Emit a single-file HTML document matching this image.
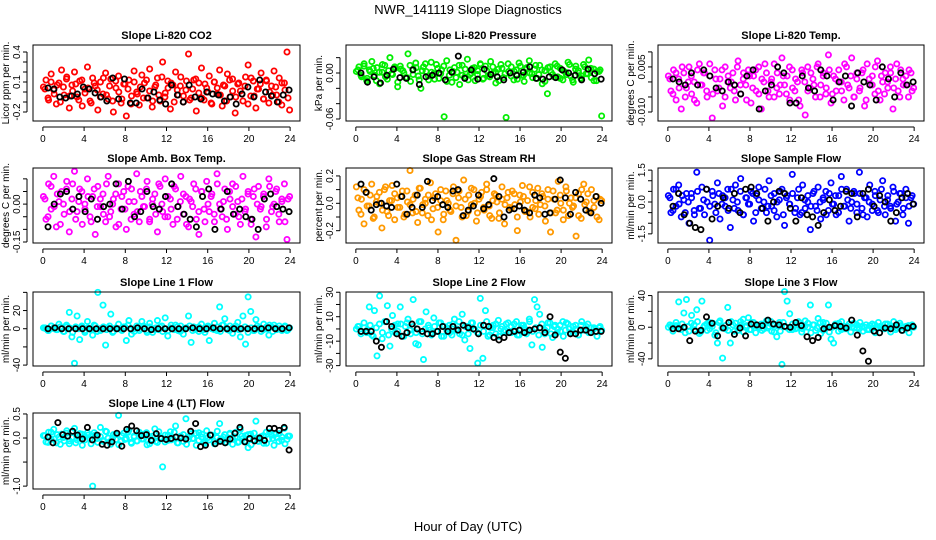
<!DOCTYPE html>
<html><head><meta charset="utf-8">
<style>
html,body{margin:0;padding:0;background:#fff;}
svg{display:block;font-family:"Liberation Sans",sans-serif;}
</style></head>
<body>
<svg id="chart" width="936" height="540" viewBox="0 0 936 540" xmlns="http://www.w3.org/2000/svg">
<rect width="936" height="540" fill="#fff"/>
<text x="468" y="14" text-anchor="middle" font-size="13">NWR_141119  Slope Diagnostics</text>
<text x="468" y="531" text-anchor="middle" font-size="13">Hour of Day (UTC)</text>
</svg>
<script>
const hourTicks = [0,4,8,12,16,20,24];
const co2Color = [5,12,-8,18,2,-12,9,22,-3,15,-16,7,20,-5,11,-14,3,25,-9,14,6,-18,10,-2,19,-7,13,-20,4,16,-11,8,-24,12,-4,21,0,-13,17,9,-6,23,-15,5,14,-9,30,-1,11,-17,7,20,-3,15,-10,2,38,-6,12,-19,9,24,-8,4,16,-12,10,-2,22,-14,6,18,-5,13,-21,8,1,-9,15,27,-4,11,-16,3,19,-7,12,-11,6,21,-3,14,-13,9,40,-18];
const co2Core = [3,-6,10,-2,7,-10,5,13,-4,1,8,-8,12,-1,4,-11,9,2,-5,14,-3,6,-9,11,0,-7,8,3,-12,10,-2,5,-6,12,1,-9,7,-3,15,-5,4,9,-10,2,6,-4,11,-8,3,13,-1,-6,8,0,-11,10,4,-3,7,-9,12,1,-5,9,-2,6,-12,14,-4,3,8,-7,11,0,-3,5,-10,9,2,-6];
const co2Black = [4,3,-5,-6,-4,-2,5,3,-1,-5,-9,14,-7,13,-11,-11,3,-6,0,-8,-12,7,-3,-10,7,-5,-7,0,-2,-3,-9,-5,-12,-2,5,-5,12,0,-4,-10,-3,2];
const presColor = [2,8,-5,12,-10,4,15,-3,7,-14,1,10,-8,20,-2,6,-18,9,3,-6,25,-11,5,13,-4,-20,8,2,-9,14,-1,11,-7,4,-57,16,-3,-12,7,1,-15,10,-5,18,-2,6,-10,3,12,-8,9,-4,15,0,-13,5,11,-6,-58,2,8,-9,4,13,-3,-11,7,16,-1,5,-7,10,-14,3,-27,8,-2,12,-5,6,-9,1,14,-4,-12,9,3,-7,11,-1,17,-6,5,-10,2,-56];
const presCore = [4,-3,9,-7,2,6,-10,1,11,-5,3,-1,8,-12,5,0,-6,10,-2,7,-9,3,12,-4,1,-8,6,-1,9,-11,4,2,-6,10,-3,5,-9,0,7,-2,11,-7,3,-5,8,1,-10,6,-1,12,-4,2,-8,9,-3,5,0,-6,10,-2,4,-11,7,1,-5,9,-7,3,-2,11,-9,5,0,-4,8,-1,6,-10,2,4];
const presBlack = [0,-12,-5,-13,-3,5,-6,-7,4,-15,-5,-3,0,-9,1,22,-7,4,-8,5,-2,-5,-9,0,-3,1,8,-7,-8,-5,-6,4,0,-3,-9,5,-1,-8];
const tempColor = [2,-3,4,-6,1,-9,3,-2,5,-4,0,-7,6,-1,3,-5,2,-12,4,-3,1,-8,5,0,-2,3,-6,7,-4,1,-1,4,-7,2,-3,5,-9,0,3,-5,1,6,-2,-4,8,-1,2,-6,4,-3,0,-8,3,-11,5,-2,1,-5,6,-1,3,-4,9,-7,2,-3,4,0,-6,5,-2,8,-5,1,-3,3,-8,6,-1,2,-4,7,-6,0,3,-2,5,-9,1,-3,4,-1,2,-5,3,-2];
const tempCore = [1,-4,3,-2,5,-5,0,2,-6,4,-1,3,-3,6,-4,1,-2,4,-5,2,0,-3,5,-1,3,-6,2,-2,4,-4,1,6,-3,0,-5,3,-1,2,-4,5,-2,1,-6,4,0,-3,3,-1,5,-5,2,-2,4,-4,1,0,-3,6,-1,2,-5,3,-2,4,-6,1,-1,5,-3,2,-4,0,3,-2,6,-5,1,-1,4,-3];
const tempBlack = [1,0,-1,3,-1,4,2,-2,-3,0,-1,-4,2,4,-9,-3,-1,5,3,-7,-7,2,-2,-3,4,2,-6,0,2,-8,3,0,-1,-6,5,1,-5,3,-1,0];
const ambColor = [3,-6,8,-2,11,-9,1,5,-4,9,-11,2,13,-3,6,-8,0,10,-5,3,-12,7,-1,4,-7,11,-3,2,-9,8,-2,5,-10,1,6,-4,12,-7,3,-1,9,-6,0,4,-11,7,-3,10,-5,2,-8,6,-1,11,-4,3,-9,1,8,-6,-12,5,-2,9,-3,4,-7,12,0,-5,6,-10,2,8,-4,1,-8,11,-2,5,-6,3,-13,7,-1,4,-9,10,-3,0,6,-7,2,8,-14,3];
const ambCore = [2,-5,7,-1,4,-8,0,6,-3,8,-6,1,5,-2,3,-7,6,-1,2,-4,8,-5,0,4,-8,3,-2,7,-6,1,-3,5,-1,6,-7,2,-4,8,0,-5,3,-2,7,-6,1,4,-8,2,-1,6,-3,5,-7,0,3,-4,8,-2,1,-6,5,-1,7,-5,2,-3,4,-8,6,0,-2,3,-6,7,-1,5,-4,1,-7,2];
const ambBlack = [-9,0,4,5,-2,3,-3,2,-6,-1,0,8,-2,9,-5,-3,5,-1,-2,3,8,-1,-4,-6,-9,3,6,-10,-2,5,-4,-2,-5,-6,-10,2,4,-1,-2,-3];
const rhColor = [12,-5,3,-15,8,-2,14,-10,5,0,-18,10,-6,2,13,-12,4,-3,9,-8,1,24,-7,6,-14,11,-1,3,-9,15,-4,7,-21,2,-12,9,0,-6,12,-27,4,-3,17,-9,6,-1,10,-13,3,8,-5,14,-2,-11,7,1,-7,12,-15,4,-3,9,-1,-20,6,13,-6,2,-10,8,-4,11,-1,5,-13,3,-21,9,-7,16,0,-5,12,-9,4,-2,-24,7,-11,14,1,-6,10,-3,5,-12,2];
const rhCore = [4,-8,10,-2,6,-11,1,8,-5,12,-9,2,7,-3,5,-10,9,-1,3,-6,11,-7,0,6,-12,4,-3,10,-8,2,-5,7,-2,9,-10,3,-6,11,0,-7,5,-3,10,-9,2,6,-11,3,-1,8,-4,7,-10,1,5,-6,12,-3,2,-8,7,-2,10,-7,3,-5,6,-12,9,0,-3,4,-9,10,-1,7,-6,2,-10,3];
const rhBlack = [14,8,-5,-1,0,-2,-3,14,5,-8,-3,6,-3,16,2,5,-1,-3,9,10,-9,-5,-2,6,-4,-1,18,5,-10,-5,-4,-2,-5,-7,6,4,-8,-7,3,17,4,-8,8,3,-5,-7,5,0];
const sampColor = [3,-5,6,-2,8,-7,1,4,-10,2,-4,14,-3,7,-6,0,-18,5,-1,9,-8,3,-2,6,-12,1,8,-4,11,-6,2,-1,5,-9,3,7,-3,0,-5,10,-2,4,-7,1,6,-11,3,-1,13,-5,2,-6,8,-3,0,-13,4,-2,7,-8,1,5,-4,9,-1,-6,3,12,-2,6,-9,0,4,-5,14,-3,2,-7,8,-1,5,-4,1,10,-6,3,-2,7,-9,0,4,-3,6,-10,2,-1];
const sampCore = [2,-4,6,-1,3,-5,0,4,-6,5,-3,1,6,-2,3,-5,4,-1,2,-4,6,-3,0,5,-6,2,-1,4,-5,1,-3,6,-2,3,-4,0,5,-6,2,-1,4,-3,6,-5,1,3,-2,5,-4,0,2,-6,4,-1,3,-5,6,-2,1,-3,5,-1,4,-6,2,0,-4,3,-5,6,-2,1,-3,5,-1,4,-6,2,-2,3];
const sampBlack = [-2,4,-6,-10,-12,-13,6,-8,-2,2,-3,4,-5,6,7,4,-3,-9,0,5,4,-3,-9,2,-6,-7,-11,-5,1,-4,-2,5,4,-7,4,6,-2,3,0,-9,-5,2,4,-1];
const l1Color = [1,0,-2,3,1,-1,5,0,-3,2,18,-9,-38,14,-12,2,-4,8,0,-7,3,40,-2,26,-18,1,16,-3,0,5,-1,2,-13,9,-6,0,3,-2,8,1,-4,6,0,-1,9,2,-3,12,-8,1,0,4,-2,3,-6,1,14,-15,2,0,-3,5,-1,2,-13,0,6,-2,24,4,11,-1,3,-5,0,7,-9,14,-17,35,19,-2,10,1,-3,5,0,-7,2,4,-1,3,0,2,-2,1];
const l1Core = [1,-2,3,0,-1,2,-3,4,1,-4,2,0,3,-2,1,-1,4,-3,0,2,-1,3,-4,1,0,-2,2,4,-1,-3,1,0,3,-2,2,-4,1,-1,3,0,-2,4,-1,2,-3,0,1,3,-2,-1,2,0,-4,3,1,-1,2,-3,4,0,-2,1,3,-1,0,2,-4,1,-2,3,0,-1,2,4,-3,1,0,-2,3,-1];
const l1Black = [0,1,0,0,0,0,0,0,0,0,0,0,0,1,0,-1,0,0,0,0,0,1,0,0,1,0,0,0,0,0,0,0,1,0,0,1];
const l2Color = [0,2,-2,1,-3,18,-5,15,-22,27,-8,6,19,-14,11,-3,4,18,-6,2,8,-4,24,-12,-13,6,-25,14,1,-3,9,-2,5,-6,2,-1,3,-5,8,0,-4,12,-9,2,-16,5,-1,-28,25,-24,15,-6,1,3,-4,7,0,-2,4,-3,2,-1,6,-5,3,1,-2,8,-13,24,18,12,-15,-4,1,5,-7,3,0,-2,6,-1,4,-3,2,0,-5,3,-1,2,-3,1,0,-2,1,-1];
const l2Core = [2,-4,5,-1,3,-6,1,4,-3,6,-5,0,3,-2,4,-6,5,-1,2,-3,6,-4,0,3,-5,2,-2,5,-6,1,-3,4,-1,6,-5,2,-4,5,0,-3,3,-2,6,-5,1,4,-6,2,-1,5,-3,4,-5,0,3,-4,6,-2,1,-5,4,-1,5,-4,2,-3,3,-6,5,0,-2,3,-5,6,-1,4,-3,1,-6,2];
const l2Black = [-2,-2,-2,-10,-15,6,2,-4,-6,-3,4,0,-2,-4,-4,-2,2,-2,2,-1,3,1,0,-4,3,2,-7,-9,-7,-3,-2,-1,-3,-1,0,1,-3,10,-5,-19,-24,-4,-4,-1,-1,-3,-2,-2];
const l3Color = [0,1,-2,2,32,-3,18,35,-5,15,3,22,-8,33,2,-4,6,1,-10,-20,8,-39,-2,25,-20,3,5,-4,7,10,0,12,-3,6,2,-1,4,-2,8,1,-5,3,-12,6,-47,45,33,17,-3,2,-1,5,-2,8,0,28,3,-4,11,-8,6,-1,28,-15,-20,2,5,-3,1,-2,4,0,-1,3,-2,1,0,-3,2,-1,3,0,1,-2,4,-1,2,0,-3,1,2,0,-1,2,1,0];
const l3Core = [3,-5,6,-1,4,-7,1,5,-3,7,-6,0,4,-2,5,-7,6,-1,2,-4,7,-5,0,3,-6,2,-3,6,-7,1,-4,5,-1,7,-6,2,-5,6,0,-3,4,-2,7,-6,1,5,-7,3,-1,6,-4,5,-6,0,4,-5,7,-2,1,-6,5,-1,6,-5,3,-3,4,-7,6,0,-2,4,-6,7,-1,5,-4,1,-7,3];
const l3Black = [-2,-2,0,-17,-5,-4,13,5,-11,-1,6,-9,-1,-11,4,3,2,9,4,3,1,0,6,2,-12,-17,-13,-2,0,2,1,-1,9,-10,-30,-43,-5,-7,-1,-2,3,-4,-1,1];
const l4Color = [5,-8,12,-3,18,-10,2,8,-6,15,-12,1,20,-4,9,-15,3,11,-2,-100,6,-9,22,-5,14,0,-13,7,-3,47,-7,10,-1,16,-11,4,-6,12,-2,8,-14,3,-4,19,-9,1,-60,6,-5,13,-2,25,-10,4,-7,40,-3,9,-1,-15,11,2,-8,15,-4,6,-12,1,30,-6,7,-3,10,-13,2,-9,18,-1,5,-20,8,-4,35,-7,3,-11,12,-2,6,-15,1,9,-5,20,-3,4];
const l4Core = [5,-9,12,-2,7,-13,1,10,-6,14,-10,2,8,-4,6,-12,11,-1,3,-7,13,-8,0,7,-14,5,-3,12,-9,2,-6,8,-2,11,-12,4,-7,13,0,-8,6,-4,12,-10,3,7,-13,4,-1,10,-5,8,-11,1,6,-7,14,-3,2,-9,8,-2,12,-8,4,-6,7,-14,10,0,-3,5,-11,12,-1,8,-7,2,-12,4];
const l4Black = [2,-10,32,7,4,14,6,-2,22,-4,6,-13,-15,-8,10,-17,18,25,15,5,7,-5,9,-1,-3,-1,2,0,-2,14,30,-18,-15,6,-12,-7,-10,-2,10,22,-8,-1,-6,0,-5,20,20,16,22,-25];

const panels = [
 {name:'co2',title:'Slope Li-820 CO2',ylab:'Licor ppm per min.',x0:33,x1:300,y0:45,y1:121,ymin:-0.29,ymax:0.47,unit:0.01,col:'#ff0000',ticks:[-0.2,-0.1,0,0.1,0.2,0.3,0.4],labels:{'-0.2':'-0.2','0.1':'0.1','0.4':'0.4'},c:co2Color,k:co2Core,b:co2Black},
 {name:'pressure',title:'Slope Li-820 Pressure',ylab:'kPa per min.',x0:346,x1:612,y0:45,y1:121,ymin:-0.0626,ymax:0.0365,unit:0.001,col:'#00ee00',ticks:[-0.06,-0.04,-0.02,0,0.02],labels:{'-0.06':'-0.06','0':'0.00'},c:presColor,k:presCore,b:presBlack},
 {name:'temp',title:'Slope Li-820 Temp.',ylab:'degrees C per min.',x0:658,x1:924,y0:45,y1:121,ymin:-0.013,ymax:0.0123,unit:0.001,col:'#ff00ff',ticks:[-0.01,-0.005,0,0.005,0.01],labels:{'-0.01':'-0.010','0.005':'0.005'},c:tempColor,k:tempCore,b:tempBlack},
 {name:'amb-box',title:'Slope Amb. Box Temp.',ylab:'degrees C per min.',x0:33,x1:300,y0:168,y1:243,ymin:-0.154,ymax:0.143,unit:0.01,col:'#ff00ff',ticks:[-0.15,-0.1,-0.05,0,0.05,0.1],labels:{'-0.15':'-0.15','0':'0.00'},c:ambColor,k:ambCore,b:ambBlack},
 {name:'rh',title:'Slope Gas Stream RH',ylab:'percent per min.',x0:346,x1:612,y0:168,y1:243,ymin:-0.29,ymax:0.258,unit:0.01,col:'#ff9900',ticks:[-0.2,-0.1,0,0.1,0.2],labels:{'-0.2':'-0.2','0':'0.0','0.2':'0.2'},c:rhColor,k:rhCore,b:rhBlack},
 {name:'sample-flow',title:'Slope Sample Flow',ylab:'ml/min per min.',x0:658,x1:924,y0:168,y1:243,ymin:-1.93,ymax:1.6,unit:0.1,col:'#0000ff',ticks:[-1.5,-1,-0.5,0,0.5,1,1.5],labels:{'-1.5':'-1.5','0':'0.0','1.5':'1.5'},c:sampColor,k:sampCore,b:sampBlack},
 {name:'line1',title:'Slope Line 1 Flow',ylab:'ml/min per min.',x0:33,x1:300,y0:292,y1:366,ymin:-41,ymax:40.4,unit:1,col:'#00ffff',ticks:[-40,-20,0,20,40],labels:{'-40':'-40','0':'0','20':'20'},c:l1Color,k:l1Core,b:l1Black},
 {name:'line2',title:'Slope Line 2 Flow',ylab:'ml/min per min.',x0:346,x1:612,y0:292,y1:366,ymin:-30.3,ymax:30.2,unit:1,col:'#00ffff',ticks:[-30,-20,-10,0,10,20,30],labels:{'-30':'-30','-10':'-10','10':'10','30':'30'},c:l2Color,k:l2Core,b:l2Black},
 {name:'line3',title:'Slope Line 3 Flow',ylab:'ml/min per min.',x0:658,x1:924,y0:292,y1:366,ymin:-49,ymax:44.5,unit:1,col:'#00ffff',ticks:[-40,-20,0,20,40],labels:{'-40':'-40','0':'0','40':'40'},c:l3Color,k:l3Core,b:l3Black},
 {name:'line4',title:'Slope Line 4 (LT) Flow',ylab:'ml/min per min.',x0:33,x1:300,y0:413,y1:489,ymin:-1.06,ymax:0.52,unit:0.01,col:'#00ffff',ticks:[-1,-0.5,0,0.5],labels:{'-1':'-1.0','0':'0.0','0.5':'0.5'},c:l4Color,k:l4Core,b:l4Black}
];
const NS='http://www.w3.org/2000/svg';
const svg=document.getElementById('chart');
function mk(tag,attrs,parent){const e=document.createElementNS(NS,tag);for(const k in attrs)e.setAttribute(k,attrs[k]);(parent||svg).appendChild(e);return e;}
panels.forEach(p=>{
  const g=mk('g',{});
  
  
  const pad=(p.x1-p.x0)/25.92*0.96;
  const xs=h=>p.x0+pad+h*(p.x1-p.x0-2*pad)/24;
  const ys=v=>p.y1-(v-p.ymin)/(p.ymax-p.ymin)*(p.y1-p.y0);
  const t=mk('text',{x:(p.x0+p.x1)/2,y:p.y0-6,'text-anchor':'middle','font-size':11,'font-weight':'bold'},g);
  t.textContent=p.title;
  
  
  const yl=mk('text',{transform:`translate(${p.x0-24},${(p.y0+p.y1)/2}) rotate(-90)`,'text-anchor':'middle','font-size':10},g);
  yl.textContent=p.ylab;
  
  
  const pts=mk('g',{fill:'none','stroke-width':1.8},g);
  
  
  p.c.forEach((v,i)=>{
    const c=mk('circle',{cx:xs(0.05+i*23.9/(p.c.length-1)),cy:ys(v*p.unit),r:2.6,stroke:p.col},pts);
    
    
  });
  p.k.forEach((v,i)=>{
    const c=mk('circle',{cx:xs(0.2+i*23.6/(p.k.length-1)),cy:ys(v*p.unit),r:2.6,stroke:p.col},pts);
    
    
  });
  p.b.forEach((v,i)=>{
    const c=mk('circle',{cx:xs(0.5+i*23.4/(p.b.length-1)),cy:ys(v*p.unit),r:2.6,stroke:'#000'},pts);
    
    
  });
  const box=mk('rect',{x:p.x0,y:p.y0,width:p.x1-p.x0,height:p.y1-p.y0,fill:'none',stroke:'#000','stroke-width':1},g);
  
  
  mk('line',{x1:xs(0),x2:xs(24),y1:p.y1+6,y2:p.y1+6,stroke:'#000'},g);
  hourTicks.forEach(h=>{
    mk('line',{x1:xs(h),x2:xs(h),y1:p.y1+6,y2:p.y1+10,stroke:'#000'},g);
    const tx=mk('text',{x:xs(h),y:p.y1+21,'text-anchor':'middle','font-size':10},g);
    tx.textContent=h;
    
    
  });
  const yax=p.x0-6;
  mk('line',{x1:yax,x2:yax,y1:ys(p.ticks[0]),y2:ys(p.ticks[p.ticks.length-1]),stroke:'#000'},g);
  p.ticks.forEach(v=>{
    mk('line',{x1:yax-4,x2:yax,y1:ys(v),y2:ys(v),stroke:'#000'},g);
    const lab=p.labels[String(v)];
    if(lab!==undefined){
      const ty=mk('text',{transform:`translate(${yax-7},${ys(v)}) rotate(-90)`,'text-anchor':'middle','font-size':10},g);
      ty.textContent=lab;
      
      
    }
  });
});
</script>
</body></html>
